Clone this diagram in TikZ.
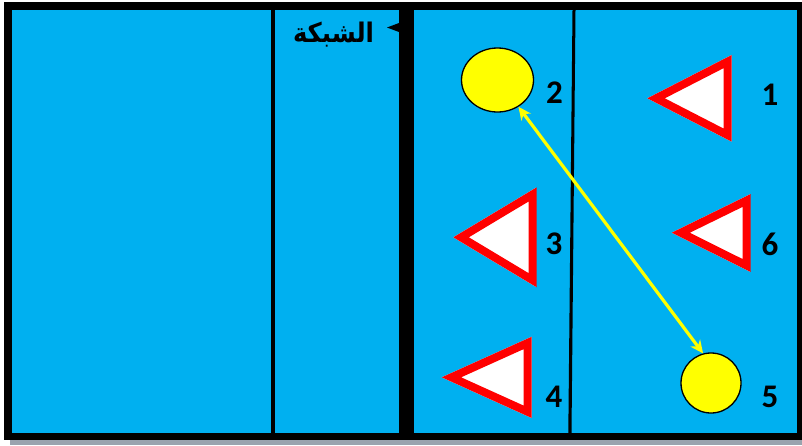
\documentclass[tikz,border=0pt]{standalone}
\usepackage{fontspec}
\setmainfont{Carlito}
\newfontfamily\arabicfont[Script=Arabic]{DejaVu Sans}
\TeXXeTstate=1
\usetikzlibrary{shapes.geometric,arrows.meta}
\definecolor{court}{HTML}{00B0F0}
\definecolor{shadowgray}{HTML}{9AA3AE}
\definecolor{ballyellow}{HTML}{FFFF00}
\definecolor{conered}{HTML}{FF0000}
\newcommand\conemark[5]{%
  \begin{scope}
    \clip (#1,#2) -- (#3,#4) -- (#3,#5) -- cycle;
    \draw[conestyle] (#1,#2) -- (#3,#4) -- (#3,#5) -- cycle;
  \end{scope}}
\begin{document}
\begin{tikzpicture}[x=1pt,y=-1pt,
  conestyle/.style={draw=conered,fill=white,line width=16pt,line join=miter},
  ball/.style={ellipse,draw=black,line width=1.3pt,fill=ballyellow,inner sep=0pt},
  conn/.style={draw=ballyellow,line width=3.2pt,
    {Stealth[length=13pt,width=12pt]}-{Stealth[length=13pt,width=12pt]}},
  num/.style={font=\bfseries\fontsize{33}{33}\selectfont,inner sep=0pt},
  nettext/.style={font=\arabicfont\bfseries\fontsize{27}{27}\selectfont,inner sep=0pt}]
\useasboundingbox (0,0) rectangle (802,445);
% frame
\fill[shadowgray] (10,440) rectangle (802,445);
\fill[black] (4,2) rectangle (802,440);
\fill[court] (12,10) rectangle (797,433);
% lines
\fill[black] (271,10) rectangle (275,433);
\fill[black] (399,10) rectangle (414,433);
\fill[black] (572.5,10) -- (575.5,10) -- (571.5,433) -- (568.3,433) -- cycle;
\fill[black] (399,23) -- (387,27.5) -- (399,32) -- cycle;
% net label
\node[nettext] (net) at (333.5,35) {\scalebox{0.9}[1]{\beginR الشبكة\endR}};
% cones
\conemark{647.3}{98.3}{731.7}{55}{141.7}
\conemark{453.3}{237.3}{536.7}{187.3}{287.3}
\conemark{671.7}{232.7}{750.7}{194}{272}
\conemark{441.7}{377.3}{531.7}{336.7}{418}
% balls
\node[ball,minimum width=72pt,minimum height=64pt] (c2) at (497.5,80) {};
\node[ball,minimum width=60pt,minimum height=60pt] (c5) at (711,383) {};
\draw[conn] (c2.-52.8) -- (c5.105.4);
% numbers
\node[num] (n1) at (770,95) {1};
\node[num] (n2) at (554.5,92.5) {2};
\node[num] (n3) at (554,244) {3};
\node[num] (n4) at (554,397) {4};
\node[num] (n5) at (770,397) {5};
\node[num] (n6) at (770,244.5) {6};
\end{tikzpicture}
\end{document}
